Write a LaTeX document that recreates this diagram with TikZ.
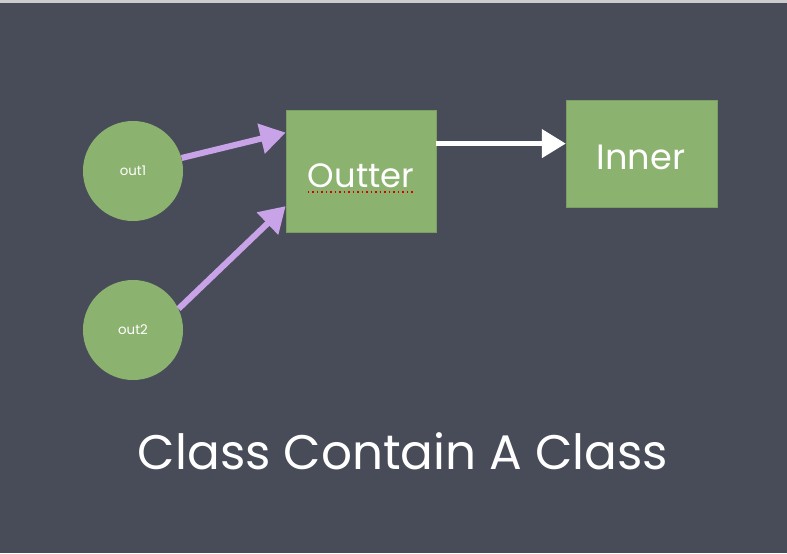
\documentclass[tikz,border=0pt]{standalone}
\usepackage{fontspec}
\setmainfont{Poppins}
\usepackage{xcolor}
\usepackage{tikz}
\usetikzlibrary{
  arrows.meta,
  calc
}
\definecolor{board}{HTML}{484C59}
\definecolor{felt}{HTML}{8BB26F}
\definecolor{feltedge}{HTML}{7B9F63}
\definecolor{lilac}{HTML}{C9A3E8}
\tikzset{
  disc/.style={
    circle,
    fill=felt,
    minimum size=2.5cm,
    inner sep=0pt,
    text=white,
    font=\fontsize{9.5}{11}\selectfont},
  card/.style={
    rectangle,
    fill=felt,
    draw=feltedge,
    line width=0.4pt},
  chalk/.style={
    text=white,
    inner sep=0pt},
  lilacarrow/.style={
    -{Triangle[length=18pt,width=21pt]},
    draw=lilac,
    line width=4.3pt},
  chalkarrow/.style={
    -{Triangle[length=17pt,width=20pt]},
    draw=white,
    line width=3pt}
  }

\begin{document}
\begin{tikzpicture}[x=0.025cm, y=-0.025cm]
      \fill [board] (0,0) rectangle (787,553);
      \fill [gray!40] (0,0) rectangle (787,2.5);
      \useasboundingbox (0,0) rectangle (787,553);
      \node [disc] (out1) at (133,171) {out1};
      \node [disc] (out2) at (133,330) {out2};
      \node [card, minimum width=3.75cm, minimum height=3.05cm] (outter) at (361,171) {};
      \node [card, minimum width=3.775cm, minimum height=2.675cm] (inner) at (641.5,153.5) {};
      \node [chalk, font=\fontsize{24}{28}\selectfont] (outterlabel) at (361,176) {Outter};
      \node [chalk, font=\fontsize{25}{30}\selectfont] (innerlabel) at (641,157) {Inner};
      \node [chalk, font=\fontsize{34.5}{40}\selectfont] (title) at (403,451) {Class Contain A Class};
      \draw [red!85!black, dotted, line width=1.2pt] ($(outterlabel.south west)+(0,4)$) to ($(outterlabel.south east)+(0,4)$);
      \draw [lilacarrow] (out1.15) to (outter.153);
      \draw [lilacarrow] (out2.25) to (outter.205);
      \draw [chalkarrow] (outter.20) to (outter.20 -| inner.west);
    \end{tikzpicture}
\end{document}
